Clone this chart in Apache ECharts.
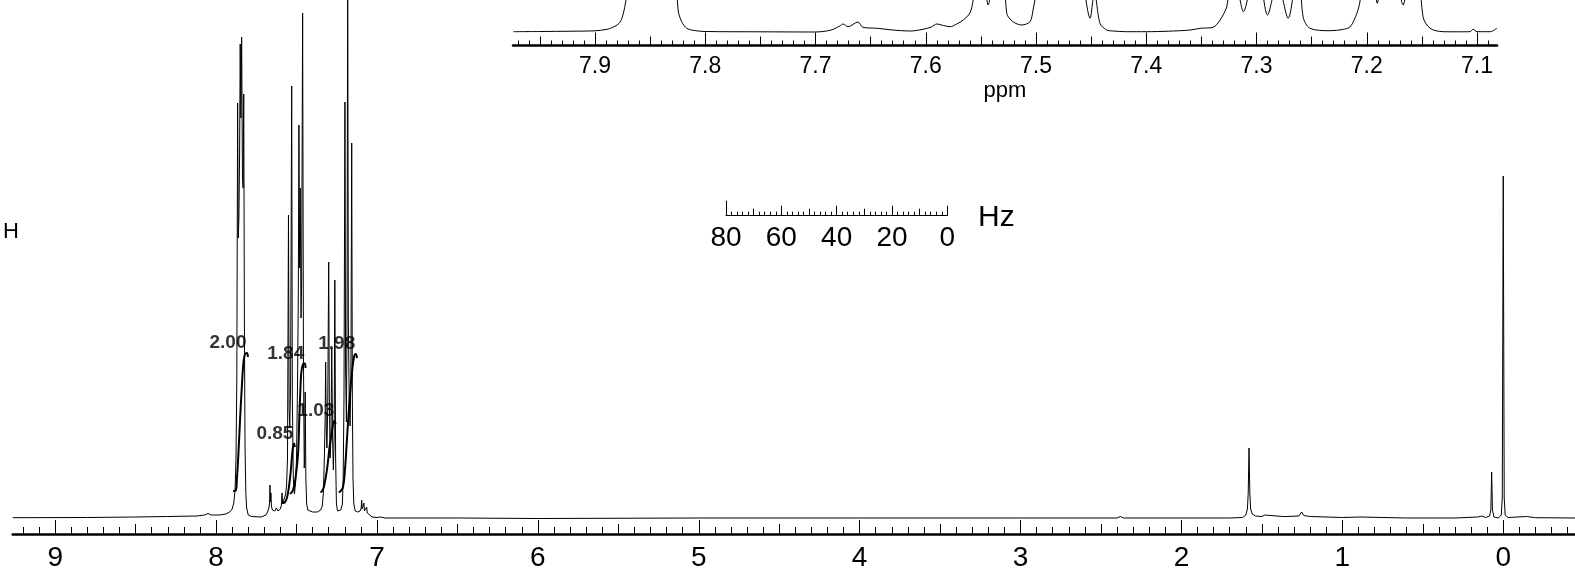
<!DOCTYPE html>
<html>
<head>
<meta charset="utf-8">
<script src="https://cdn.jsdelivr.net/npm/echarts@6.0.0/dist/echarts.min.js"></script>
<style>
  html, body { margin: 0; padding: 0; background: #fff; }
  #nmr-chart { width: 1575px; height: 571px; }
</style>
</head>
<body>
<div id="nmr-chart"></div>
<script>
// ppm / Hz values printed on the three rulers
const mainTickLabels = [0, 1, 2, 3, 4, 5, 6, 7, 8, 9];
const insetTickLabels = [7.1, 7.2, 7.3, 7.4, 7.5, 7.6, 7.7, 7.8, 7.9];
const hzTickLabels = [0, 20, 40, 60, 80];

// full spectrum, [shift ppm, intensity]
const mainSpectrum = [
  [9.264, 0.3], [8.8, 0.5], [8.5, 1], [8.3, 1.5], [8.12, 2], [8.07, 3], [8.05, 4.5], [8.03, 3],
  [7.98, 3], [7.94, 4], [7.915, 6], [7.9, 9], [7.89, 15], [7.882, 28], [7.876, 60], [7.871, 140],
  [7.866, 415], [7.862, 280], [7.858, 300], [7.854, 360], [7.85, 474], [7.846, 400], [7.841, 481],
  [7.836, 340], [7.832, 330], [7.828, 424], [7.824, 200], [7.82, 70], [7.815, 25], [7.81, 10],
  [7.8, 3], [7.78, 1.5], [7.72, 1], [7.69, 3], [7.68, 6], [7.672, 10], [7.668, 14], [7.665, 33],
  [7.662, 16], [7.659, 25], [7.656, 12], [7.65, 8], [7.64, 9], [7.635, 7], [7.625, 10], [7.615, 7],
  [7.6, 9], [7.594, 13], [7.59, 25], [7.586, 14], [7.58, 16], [7.575, 20], [7.568, 24], [7.562, 32],
  [7.556, 60], [7.55, 303], [7.546, 110], [7.542, 90], [7.537, 130], [7.53, 432], [7.526, 120],
  [7.52, 40], [7.513, 24], [7.506, 35], [7.5, 60], [7.494, 130], [7.489, 220], [7.485, 393],
  [7.481, 250], [7.477, 330], [7.472, 200], [7.468, 240], [7.462, 505], [7.457, 160], [7.452, 50],
  [7.449, 60], [7.446, 126], [7.442, 40], [7.437, 14], [7.43, 8], [7.4, 6], [7.37, 6], [7.35, 8],
  [7.34, 12], [7.333, 25], [7.327, 60], [7.322, 100], [7.319, 156], [7.315, 90], [7.311, 70],
  [7.306, 110], [7.3, 256], [7.296, 120], [7.291, 60], [7.286, 80], [7.281, 170], [7.276, 80],
  [7.271, 48], [7.266, 80], [7.262, 238], [7.257, 60], [7.252, 14], [7.245, 7], [7.235, 6],
  [7.225, 8], [7.215, 14], [7.21, 40], [7.205, 120], [7.199, 416], [7.195, 150], [7.19, 96],
  [7.186, 200], [7.182, 560], [7.178, 200], [7.172, 110], [7.167, 92], [7.162, 140], [7.157, 375],
  [7.153, 120], [7.149, 40], [7.144, 14], [7.135, 7], [7.12, 6], [7.105, 7], [7.098, 10],
  [7.095, 18], [7.092, 9], [7.085, 8], [7.081, 15], [7.078, 7], [7.068, 6], [7.064, 11], [7.06, 5],
  [7.05, 3], [7.03, 1], [7.0, 0.5], [6.98, 1], [6.95, 0], [6.5, 0], [6.0, -0.5], [5.0, 0], [4.0, 0],
  [3.0, 0], [2.4, 0], [2.38, 1.5], [2.36, 0], [1.7, 0], [1.62, 0.5], [1.6, 3], [1.59, 9],
  [1.585, 25], [1.58, 70], [1.575, 25], [1.57, 9], [1.56, 4], [1.54, 2], [1.5, 1.5], [1.482, 3],
  [1.47, 1.5], [1.37, 1.5], [1.361, 3.5], [1.35, 1.5], [1.27, 2], [1.253, 6], [1.24, 2.5],
  [1.2, 1.5], [1.0, 0.5], [0.89, 1], [0.6, 0], [0.3, 0], [0.16, 1], [0.134, 2], [0.11, 0.5],
  [0.085, 2], [0.077, 8], [0.072, 46], [0.067, 8], [0.058, 1], [0.03, 0], [0.012, 3], [0.006, 20],
  [0.0, 342], [-0.006, 20], [-0.012, 3], [-0.03, 0.5], [-0.145, 1.5], [-0.2, 0.3], [-0.446, 0],
];

// expanded aromatic region shown in the inset
const insetSpectrum = [
  [7.974, 0.3], [7.95, 0.5], [7.92, 0.8], [7.9, 1.2], [7.89, 2.5], [7.886, 3.7], [7.88, 7],
  [7.877, 10.3], [7.874, 20], [7.871, 40], [7.866, 125], [7.858, 90], [7.85, 142], [7.845, 120],
  [7.841, 144], [7.835, 100], [7.828, 127], [7.826, 60], [7.8247, 22], [7.8214, 10.3],
  [7.8168, 3.7], [7.81, 1.5], [7.8, 0.5], [7.75, 0.2], [7.7, 0], [7.69, 1], [7.684, 2.7],
  [7.678, 6], [7.675, 8], [7.6705, 5.3], [7.6615, 10], [7.657, 4.7], [7.644, 3.7], [7.63, 2],
  [7.614, 1], [7.6025, 2.7], [7.595, 5], [7.59, 8], [7.584, 6.5], [7.578, 5.3], [7.572, 8],
  [7.566, 12], [7.56, 19], [7.557, 32], [7.55, 90], [7.5435, 27], [7.533, 130], [7.5266, 18.7],
  [7.5209, 10.3], [7.513, 7], [7.5054, 10.3], [7.5027, 22], [7.501, 32], [7.485, 118], [7.478, 100],
  [7.462, 150], [7.4556, 40], [7.451, 13.7], [7.447, 40], [7.442, 8.7], [7.436, 2], [7.43, 1],
  [7.418, 0.3], [7.4, 0.3], [7.38, 0.8], [7.36, 2], [7.351, 3.7], [7.3395, 4.7], [7.333, 12],
  [7.327, 25], [7.326, 32], [7.319, 47], [7.312, 20.3], [7.3, 77], [7.29, 17], [7.281, 50],
  [7.2714, 13.7], [7.262, 71], [7.2578, 15.3], [7.2515, 3.7], [7.2333, 1.3], [7.222, 2.5],
  [7.215, 5.3], [7.209, 18.7], [7.206, 32], [7.199, 125], [7.1905, 28.7], [7.182, 160],
  [7.167, 27], [7.157, 112], [7.149, 15.3], [7.1426, 3.7], [7.1308, 0.3], [7.12, 0.2],
  [7.1064, 0.3], [7.1036, 2.7], [7.1, 0.3], [7.088, 0.3], [7.082, 3.7],
];

// integral traces drawn over the multiplets
const integralValues = ['2.00', '0.85', '1.84', '1.03', '1.98'];
const integral200 = [[7.894, 27], [7.878, 27.5], [7.871, 38], [7.861, 65], [7.851, 98], [7.84, 131],
  [7.83, 155], [7.82, 164], [7.808, 165], [7.802, 161]];
const integral085 = [[7.585, 15], [7.573, 15.5], [7.56, 20], [7.548, 30], [7.537, 45], [7.528, 62],
  [7.522, 71], [7.516, 74.5], [7.51, 71]];
const integral184 = [[7.542, 24.5], [7.533, 25], [7.52, 29], [7.508, 38], [7.491, 63], [7.483, 98],
  [7.476, 128], [7.47, 146], [7.459, 154], [7.449, 154.5], [7.444, 150]];
const integral103 = [[7.352, 26], [7.343, 26.5], [7.33, 31], [7.311, 48], [7.293, 73], [7.277, 90],
  [7.268, 96.5], [7.262, 97], [7.258, 94]];
const integral198 = [[7.238, 26], [7.228, 26.5], [7.211, 31], [7.199, 48], [7.183, 88], [7.168, 123],
  [7.155, 146], [7.143, 161], [7.132, 164], [7.124, 160]];
const integralCurves = [integral200, integral085, integral184, integral103, integral198];

const FONT = '"Liberation Sans", Arial, sans-serif';

// evenly spaced ruler marks
function marks(from, to, step) {
  const out = [];
  const n = Math.round((to - from) / step);
  for (let i = 0; i <= n; i++) out.push(+(from + i * step).toFixed(3));
  return out;
}

function ruler(gridIndex, min, max, values, length, extra) {
  return Object.assign({
    type: 'value', gridIndex, min, max, inverse: true, position: 'bottom', offset: 0,
    axisLine: { show: false, onZero: false },
    axisTick: { show: true, inside: true, length, customValues: values, lineStyle: { color: '#000', width: 1 } },
    axisLabel: { show: false },
    splitLine: { show: false },
  }, extra);
}

const labelStyle = (size, margin, values, fmt) => ({
  show: true, customValues: values, fontSize: size, fontFamily: FONT, color: '#000', margin,
  formatter: fmt,
});

const mainMin = -0.446, mainMax = 9.264;
const insetMin = 7.0819, insetMax = 7.9744;

const chart = echarts.init(document.getElementById('nmr-chart'));

const integralSeries = integralCurves.map((pts) => ({
  type: 'line', xAxisIndex: 0, yAxisIndex: 0, data: pts, smooth: 0.4, symbol: 'none',
  lineStyle: { color: '#000', width: 2 }, z: 4, silent: true,
}));

const labelAnchors = integralCurves.map((pts, i) => {
  const top = pts.reduce((a, b) => (b[1] > a[1] ? b : a));
  return [top[0], top[1], integralValues[i]];
});

chart.setOption({
  animation: false,
  backgroundColor: '#fff',
  grid: [
    { left: 12.7, right: 0, top: 0, bottom: 37, outerBoundsMode: 'none', containLabel: false },
    { left: 513, right: 78, top: 0, bottom: 525.5, outerBoundsMode: 'none', containLabel: false },
    { left: 726, right: 627.7, top: 200, bottom: 355.3, outerBoundsMode: 'none', containLabel: false },
  ],
  xAxis: [
    ruler(0, mainMin, mainMax, mainTickLabels, 14, {
      axisLine: { show: true, onZero: false, lineStyle: { color: '#000', width: 2.5 } },
      axisLabel: labelStyle(28, 10, mainTickLabels, (v) => String(Math.round(v))),
    }),
    ruler(0, mainMin, mainMax, marks(0.5, 8.5, 1), 10),
    ruler(0, mainMin, mainMax, marks(-0.4, 9.2, 0.1), 7),
    ruler(1, insetMin, insetMax, insetTickLabels, 13, {
      axisLine: { show: true, onZero: false, lineStyle: { color: '#000', width: 2.5 } },
      axisLabel: labelStyle(23, 10, insetTickLabels, (v) => v.toFixed(1)),
      name: 'ppm', nameLocation: 'middle', nameGap: 34,
      nameTextStyle: { fontSize: 22, fontFamily: FONT, color: '#000' },
    }),
    ruler(1, insetMin, insetMax, marks(7.15, 7.95, 0.1), 9),
    ruler(1, insetMin, insetMax, marks(7.09, 7.97, 0.01), 5),
    ruler(2, 0, 80, hzTickLabels, 10, {
      axisLine: { show: true, onZero: false, lineStyle: { color: '#000', width: 1 } },
      axisLabel: labelStyle(28, 9, hzTickLabels, (v) => String(Math.round(v))),
    }),
    ruler(2, 0, 80, marks(0, 80, 10), 7),
    ruler(2, 0, 80, marks(0, 80, 2), 4),
    ruler(2, 0, 80, [80], 15),
  ],
  yAxis: [
    { type: 'value', gridIndex: 0, min: -16, max: 518, show: false },
    { type: 'value', gridIndex: 1, min: -13.5, max: 32, show: false },
    { type: 'value', gridIndex: 2, min: 0, max: 1, show: false },
  ],
  series: [
    {
      type: 'scatter', xAxisIndex: 0, yAxisIndex: 0, data: labelAnchors, symbolSize: 0, z: 2,
      label: {
        show: true, position: 'inside', offset: [-19, -10], formatter: (p) => p.value[2],
        fontSize: 19, fontWeight: 'bold', fontFamily: FONT, color: '#000', textBorderWidth: 0,
      },
      silent: true,
    },
    {
      type: 'line', xAxisIndex: 0, yAxisIndex: 0, data: mainSpectrum, symbol: 'none', clip: true,
      lineStyle: { color: '#000', width: 1 }, z: 3, silent: true,
    },
    ...integralSeries,
    {
      type: 'line', xAxisIndex: 3, yAxisIndex: 1, data: insetSpectrum, symbol: 'none', clip: true,
      smooth: 0.3, lineStyle: { color: '#000', width: 1 }, z: 3, silent: true,
    },
  ],
  graphic: [
    { type: 'text', left: 3, top: 221, style: { text: 'H', font: '22px ' + FONT, fill: '#000' } },
    { type: 'text', left: 978, top: 203, style: { text: 'Hz', font: '30px ' + FONT, fill: '#000' } },
  ],
});
</script>
</body>
</html>
